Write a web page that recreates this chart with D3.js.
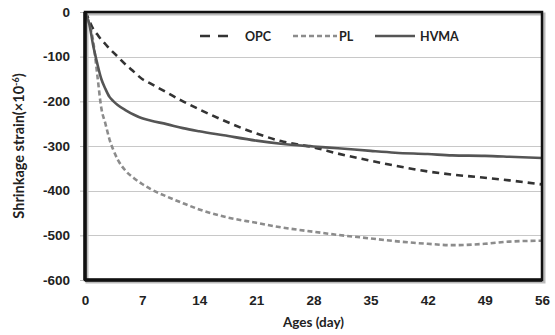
<!DOCTYPE html>
<html lang="en">
<head>
  <meta charset="UTF-8" />
  <title>Shrinkage strain</title>
  <style>
    body { margin: 0; background: #fff; }
    svg { display: block; font-family: Lato, 'Open Sans', sans-serif; }
    .grid line { stroke: #c8c8c8; stroke-width: 1.2px; shape-rendering: crispEdges; }
    .grid path { display: none; }
    .axis text { fill: #222; font-size: 13.5px; font-weight: 700; }
    .axis path { display: none; }
    .axis line { stroke: #bbb; }
    .series { fill: none; stroke-width: 2.6px; }
    .legend text { font-size: 12.5px; font-weight: 700; fill: #222; }
  </style>
</head>
<body>
<svg width="555" height="335"></svg>
<script src="https://d3js.org/d3.v7.min.js"></script>
<script>
  // --- values
  const days = [0, 0.25, 0.5, 1, 1.5, 2, 2.5, 3, 3.5, 4, 5, 6, 7, 8, 10, 12, 14, 17, 21, 24, 28, 31, 35, 38, 42, 45, 49, 52, 56];
  const opc  = [0, -8, -18, -38, -50, -62, -72, -82, -91, -100, -118, -134, -150, -160, -180, -200, -218, -243, -272, -289, -303, -317, -333, -344, -357, -364, -371, -377, -386];
  const pl   = [0, -10, -25, -65, -140, -215, -250, -285, -310, -330, -356, -372, -385, -396, -413, -428, -442, -458, -472, -482, -492, -499, -507, -513, -519, -522, -519, -514, -512];
  const hvma = [0, -12, -25, -75, -115, -150, -172, -190, -200, -208, -220, -230, -238, -243, -251, -260, -267, -276, -288, -295, -301, -305, -311, -315, -318, -321, -322, -324, -327];
  const xTicks = [0, 7, 14, 21, 28, 35, 42, 49, 56];
  const yTicks = [0, -100, -200, -300, -400, -500, -600];

  const series = [
    { name: "OPC",  values: opc,  color: "#333", dash: "7,5" },
    { name: "PL",   values: pl,   color: "#8c8c8c", dash: "5,3" },
    { name: "HVMA", values: hvma, color: "#555", dash: null }
  ];

  const svg = d3.select("svg");
  const margin = { top: 12, right: 13, bottom: 55, left: 85 };
  const width = +svg.attr("width") - margin.left - margin.right;
  const height = +svg.attr("height") - margin.top - margin.bottom;
  const g = svg.append("g").attr("transform", `translate(${margin.left},${margin.top})`);

  const x = d3.scaleLinear().domain([0, 56]).range([0, width]);
  const y = d3.scaleLinear().domain([-600, 0]).range([height, 0]);

  // gridlines
  g.append("g").attr("class", "grid")
    .call(d3.axisLeft(y).tickValues(yTicks.slice(1, -1)).tickSize(-width).tickFormat(""));

  // shadow + frame
  g.append("rect").attr("x", 2).attr("y", 2).attr("width", width).attr("height", height)
    .attr("fill", "none").attr("stroke", "#bbb").attr("stroke-width", 3);

  // axes (plain hyphen for negatives, like the original)
  g.append("g").attr("class", "axis")
    .call(d3.axisLeft(y).tickValues(yTicks).tickSize(5).tickPadding(10).tickFormat(d => String(d)));
  g.append("g").attr("class", "axis").attr("transform", `translate(0,${height})`)
    .call(d3.axisBottom(x).tickValues(xTicks).tickSize(0).tickPadding(15));

  // lines
  const line = d3.line()
    .x((d, i) => x(days[i]))
    .y(d => y(d))
    .curve(d3.curveMonotoneX);

  g.selectAll(".series").data(series).join("path")
    .attr("class", "series")
    .attr("stroke", d => d.color)
    .attr("stroke-dasharray", d => d.dash)
    .attr("d", d => line(d.values));

  g.append("rect").attr("width", width).attr("height", height)
    .attr("fill", "none").attr("stroke", "#111").attr("stroke-width", 2.5);
  g.append("line").attr("x1", 0).attr("x2", 0).attr("y1", 0).attr("y2", height)
    .attr("stroke", "#111").attr("stroke-width", 3.5);
  g.append("line").attr("x1", 0).attr("x2", width).attr("y1", height).attr("y2", height)
    .attr("stroke", "#111").attr("stroke-width", 3.5);

  // legend
  const legendPos = [
    { x1: 200, x2: 233, tx: 245 },
    { x1: 293, x2: 337, tx: 339 },
    { x1: 375, x2: 415, tx: 420 }
  ];
  const legend = svg.append("g").attr("class", "legend");
  series.forEach((s, i) => {
    const p = legendPos[i];
    legend.append("line").attr("x1", p.x1).attr("x2", p.x2).attr("y1", 36).attr("y2", 36)
      .attr("stroke", s.color).attr("stroke-width", 2.6)
      .attr("stroke-dasharray", s.name === "OPC" ? "10,8" : s.dash);
    legend.append("text").attr("x", p.tx).attr("y", 40.5).text(s.name);
  });

  // axis titles
  svg.append("text")
    .attr("x", margin.left + width / 2).attr("y", 327)
    .attr("text-anchor", "middle")
    .style("font-size", "13.5px").style("font-weight", 700).style("fill", "#222")
    .text("Ages (day)");
  svg.append("text")
    .attr("transform", `translate(24,${margin.top + height / 2}) rotate(-90)`)
    .attr("text-anchor", "middle")
    .style("font-size", "14.5px").style("font-weight", 700).style("fill", "#222")
    .html("Shrinkage strain(×10<tspan dy='-5' font-size='9'>-6</tspan><tspan dy='5'>)</tspan>");
</script>
</body>
</html>
